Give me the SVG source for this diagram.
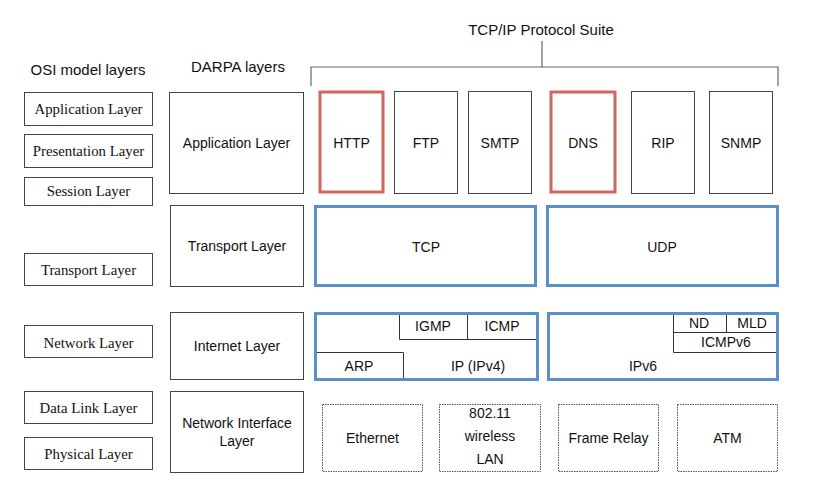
<svg xmlns="http://www.w3.org/2000/svg" width="814" height="504" viewBox="0 0 814 504">
<style>
  .bg{fill:#fff}
  .box{fill:#fff;stroke:#444;stroke-width:1}
  .red{fill:#fff;stroke:#d0665f;stroke-width:3}
  .blue{fill:#fff;stroke:#5a8fc8;stroke-width:3}
  .cell{fill:none;stroke:#333;stroke-width:1}
  .dot{fill:#fff;stroke:#555;stroke-width:1;stroke-dasharray:1.5,1}
  .brk{fill:none;stroke:#666;stroke-width:1.2}
  .s{font-family:"Liberation Sans",Arial,sans-serif;font-size:14px;fill:#111;text-anchor:middle}
  .t{font-family:"Liberation Sans",Arial,sans-serif;font-size:15px;fill:#111;text-anchor:middle}
  .r{font-family:"Liberation Serif","Times New Roman",serif;font-size:14.8px;fill:#111;text-anchor:middle}
</style>
<rect class="bg" x="0" y="0" width="814" height="504"/>
<text class="t" x="88" y="75">OSI model layers</text>
<text class="t" x="238" y="72">DARPA layers</text>
<text class="t" x="541" y="35">TCP/IP Protocol Suite</text>
<g id="connectors">
  <path class="brk" d="M542,41 V67 M311,86 V67 H778 V86"/>
</g>
<g id="osi-application"><rect class="box" x="24.5" y="92.5" width="128" height="33"/><text class="r" x="88.5" y="114">Application Layer</text></g>
<g id="osi-presentation"><rect class="box" x="24.5" y="134.5" width="128" height="33"/><text class="r" x="88.5" y="156">Presentation Layer</text></g>
<g id="osi-session"><rect class="box" x="24.5" y="177.5" width="128" height="28"/><text class="r" x="88.5" y="196">Session Layer</text></g>
<g id="osi-transport"><rect class="box" x="24.5" y="253.5" width="128" height="32"/><text class="r" x="88.5" y="275">Transport Layer</text></g>
<g id="osi-network"><rect class="box" x="24.5" y="325.5" width="128" height="32"/><text class="r" x="88.5" y="348">Network Layer</text></g>
<g id="osi-datalink"><rect class="box" x="24.5" y="391.5" width="128" height="32"/><text class="r" x="88.5" y="413">Data Link Layer</text></g>
<g id="osi-physical"><rect class="box" x="24.5" y="437.5" width="128" height="32"/><text class="r" x="88.5" y="459">Physical Layer</text></g>

<g id="darpa-application"><rect class="box" x="169.5" y="92.5" width="134" height="101"/><text class="s" x="236.5" y="148">Application Layer</text></g>
<g id="darpa-transport"><rect class="box" x="170.5" y="205.5" width="133" height="81"/><text class="s" x="237" y="251">Transport Layer</text></g>
<g id="darpa-internet"><rect class="box" x="170.5" y="312.5" width="133" height="67"/><text class="s" x="237" y="351">Internet Layer</text></g>
<g id="darpa-netif"><rect class="box" x="170.5" y="391.5" width="133" height="81"/><text class="s" x="237" y="428">Network Interface</text><text class="s" x="237" y="446">Layer</text></g>

<g id="http"><rect class="red" x="320" y="92" width="63" height="100"/><text class="s" x="351.5" y="148">HTTP</text></g>
<g id="ftp"><rect class="box" x="394.5" y="91.5" width="63" height="102"/><text class="s" x="426" y="148">FTP</text></g>
<g id="smtp"><rect class="box" x="468.5" y="91.5" width="63" height="102"/><text class="s" x="500" y="148">SMTP</text></g>
<g id="dns"><rect class="red" x="551" y="92" width="64" height="100"/><text class="s" x="583" y="148">DNS</text></g>
<g id="rip"><rect class="box" x="631.5" y="91.5" width="63" height="102"/><text class="s" x="663" y="148">RIP</text></g>
<g id="snmp"><rect class="box" x="709.5" y="91.5" width="63" height="102"/><text class="s" x="741" y="148">SNMP</text></g>

<g id="tcp"><rect class="blue" x="315.5" y="206.5" width="220" height="79"/><text class="s" x="426" y="252">TCP</text></g>
<g id="udp"><rect class="blue" x="547.5" y="206.5" width="230" height="79"/><text class="s" x="662" y="252">UDP</text></g>

<g id="ipv4">
  <rect class="blue" x="315.5" y="313.5" width="222" height="66"/>
  <path class="cell" d="M399.5,315 V339.5 H536 M467.5,315 V339.5 M317,352.5 H403.5 V378"/>
  <text class="s" x="433" y="331">IGMP</text>
  <text class="s" x="502" y="331">ICMP</text>
  <text class="s" x="359" y="371">ARP</text>
  <text class="s" x="478" y="371">IP (IPv4)</text>
</g>
<g id="ipv6">
  <rect class="blue" x="548.5" y="313.5" width="229" height="66"/>
  <path class="cell" d="M673.5,315 V352.5 H776 M673.5,332.5 H776 M726.5,315 V332.5"/>
  <text class="s" x="699" y="328">ND</text>
  <text class="s" x="752" y="328">MLD</text>
  <text class="s" x="726" y="347">ICMPv6</text>
  <text class="s" x="643" y="371">IPv6</text>
</g>

<g id="ethernet"><rect class="dot" x="322.5" y="404.5" width="100" height="67"/><text class="s" x="372.5" y="443">Ethernet</text></g>
<g id="wlan"><rect class="dot" x="439.5" y="404.5" width="101" height="67"/><text class="s" x="490" y="418">802.11</text><text class="s" x="490" y="441">wireless</text><text class="s" x="490" y="464">LAN</text></g>
<g id="framerelay"><rect class="dot" x="558.5" y="404.5" width="100" height="67"/><text class="s" x="608.5" y="443">Frame Relay</text></g>
<g id="atm"><rect class="dot" x="677.5" y="404.5" width="100" height="67"/><text class="s" x="727.5" y="443">ATM</text></g>
</svg>
